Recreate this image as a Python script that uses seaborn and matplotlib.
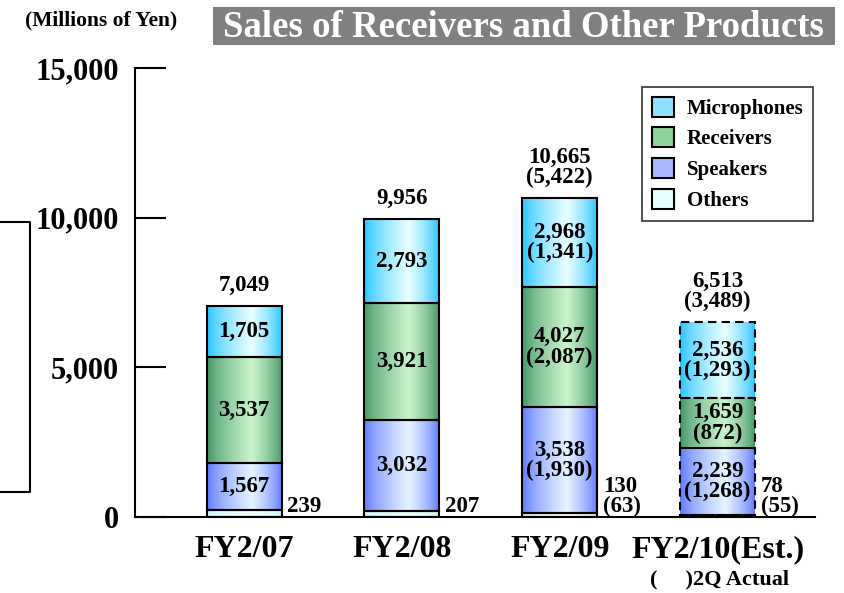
import numpy as np
import matplotlib
matplotlib.use("Agg")
import matplotlib.pyplot as plt
import seaborn as sns
from matplotlib.colors import to_rgb
from matplotlib.patches import Patch, Rectangle
from matplotlib.lines import Line2D

years = ["FY2/07", "FY2/08", "FY2/09", "FY2/10(Est.)"]
others = [239, 207, 130, 78]
speakers = [1567, 3032, 3538, 2239]
receivers = [3537, 3921, 4027, 1659]
microphones = [1705, 2793, 2968, 2536]
totals = [7049, 9956, 10665, 6513]

# 2Q actual figures (only given for the last two years)
others_2q = [None, None, 63, 55]
speakers_2q = [None, None, 1930, 1268]
receivers_2q = [None, None, 2087, 872]
microphones_2q = [None, None, 1341, 1293]
totals_2q = [None, None, 5422, 3489]

sns.set_style("white")
plt.rcParams["font.family"] = ["Liberation Serif", "DejaVu Serif"]
plt.rcParams["font.weight"] = "bold"
for k in ["text.color", "axes.labelcolor", "xtick.color", "ytick.color"]:
    plt.rcParams[k] = "black"


def gradient(edge, mid):
    t = np.linspace(0, 1, 200)
    w = np.where(t < 0.6, t / 0.6, (1 - t) / 0.4) ** 0.7
    e, m = np.array(to_rgb(edge)), np.array(to_rgb(mid))
    row = e[None, :] * (1 - w[:, None]) + m[None, :] * w[:, None]
    return row[None, :, :]


def label(v, q):
    s = f"{v:,}"
    if q is not None:
        s += f"\n({q:,})"
    return s


fig = plt.figure(figsize=(8.45, 5.93), dpi=100)
ax = fig.add_axes([0.16, 0.128, 0.805, 0.757])

# segments bottom -> top: name, values, 2Q values, edge colour, centre colour
segments = [
    ("Others", others, others_2q, "#c8f4f4", "#f2ffff"),
    ("Speakers", speakers, speakers_2q, "#5a74ff", "#e6f4ff"),
    ("Receivers", receivers, receivers_2q, "#3d9263", "#caf4cc"),
    ("Microphones", microphones, microphones_2q, "#1ec2ff", "#e8ffff"),
]

bw = 0.475
fs = 16.5
bottom = np.zeros(len(years))
for name, vals, vals_2q, edge, mid in segments:
    n0 = len(ax.patches)
    sns.barplot(x=years, y=vals, bottom=bottom, color=mid, width=bw,
                errorbar=None, edgecolor="black", linewidth=1.5, ax=ax)
    img = gradient(edge, mid)
    for i, p in enumerate(ax.patches[n0:]):
        x0, y0, w, h = p.get_x(), p.get_y(), p.get_width(), p.get_height()
        im = ax.imshow(img, extent=[x0, x0 + w, y0, y0 + h], aspect="auto",
                       interpolation="bilinear", zorder=1)
        im.set_clip_path(p)
        p.set_facecolor("none")
        p.set_zorder(2)
        if i == 3:
            p.set_linestyle((0, (4, 2.5)))
        if name == "Others":
            ax.text(i + bw / 2 + 0.035, 0, label(vals[i], vals_2q[i]),
                    ha="left", va="bottom", fontsize=fs, linespacing=0.95)
        else:
            ax.text(i, bottom[i] + vals[i] / 2, label(vals[i], vals_2q[i]),
                    ha="center", va="center", fontsize=fs, linespacing=0.95,
                    zorder=3)
    bottom += np.array(vals)

for i, t in enumerate(totals):
    ax.text(i, bottom[i] + 330, label(t, totals_2q[i]), ha="center",
            va="bottom", fontsize=fs, linespacing=0.95)

ax.set_xlim(-0.69, 3.62)
ax.set_ylim(0, 15000)
ax.set_yticks([0, 5000, 10000, 15000])
ax.set_yticklabels([f"{v:,}" for v in [0, 5000, 10000, 15000]], fontsize=22)
ax.tick_params(axis="y", direction="in", length=22, width=1.5, pad=12, left=True)
ax.tick_params(axis="x", length=0, pad=13, labelsize=23)
ax.set_xlabel("")
for s in ["top", "right"]:
    ax.spines[s].set_visible(False)
for s in ["left", "bottom"]:
    ax.spines[s].set_color("black")
    ax.spines[s].set_linewidth(1.5)

handles = [Patch(facecolor=c, edgecolor="black", linewidth=1.5, label=n)
           for n, c in [("Microphones", "#8fe2ff"), ("Receivers", "#8fd29a"),
                        ("Speakers", "#a9b8ff"), ("Others", "#e8ffff")]]
leg = fig.legend(handles=handles, loc="upper left",
                 bbox_to_anchor=(0.760, 0.853), fontsize=15, frameon=True,
                 fancybox=False, handlelength=1.1, handleheight=1.1,
                 labelspacing=0.42, borderpad=0.45, handletextpad=0.6,
                 borderaxespad=0)
leg.get_frame().set_edgecolor("black")
leg.get_frame().set_linewidth(1.2)

# title banner
fig.add_artist(Rectangle((0.252, 0.924), 0.736, 0.064, transform=fig.transFigure,
                         facecolor="#808080", edgecolor="none"))
fig.text(0.620, 0.953, "Sales of Receivers and Other Products", color="white",
         fontsize=26.5, ha="center", va="center")
fig.text(0.120, 0.965, "(Millions of Yen)", fontsize=15.5, ha="center", va="center")
fig.text(0.852, 0.022, "(     )2Q Actual", fontsize=16, ha="center", va="center")

# stray bracket on the left edge
fig.add_artist(Line2D([0, 30 / 845, 30 / 845, 0],
                      [1 - 222 / 593, 1 - 222 / 593, 1 - 492 / 593, 1 - 492 / 593],
                      transform=fig.transFigure, color="black", linewidth=1.5))

fig.savefig("out.png", dpi=100)
